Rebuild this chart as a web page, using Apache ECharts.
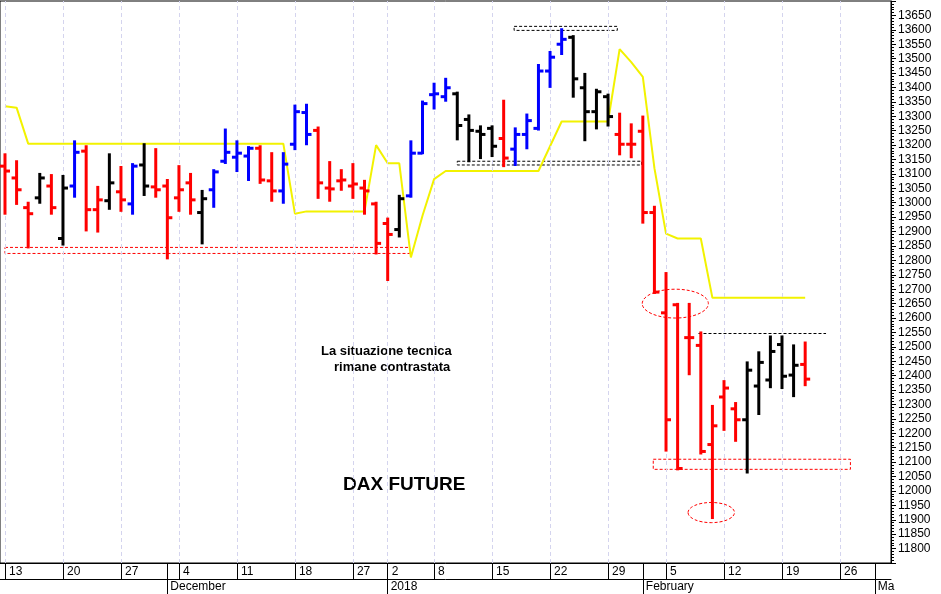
<!DOCTYPE html>
<html><head><meta charset="utf-8">
<script src="https://cdn.jsdelivr.net/npm/echarts@6/dist/echarts.min.js"></script>
<style>html,body{margin:0;padding:0;background:#fff}#c{width:941px;height:594px}</style>
</head><body><div id="c"></div>
<script>
const dates = ['2017-11-13','2017-11-14','2017-11-15','2017-11-16','2017-11-17','2017-11-20','2017-11-21','2017-11-22','2017-11-23','2017-11-24',
'2017-11-27','2017-11-28','2017-11-29','2017-11-30','2017-12-01','2017-12-04','2017-12-05','2017-12-06','2017-12-07','2017-12-08',
'2017-12-11','2017-12-12','2017-12-13','2017-12-14','2017-12-15','2017-12-18','2017-12-19','2017-12-20','2017-12-21','2017-12-22',
'2017-12-27','2017-12-28','2017-12-29','2018-01-02','2018-01-03','2018-01-04','2018-01-05','2018-01-08','2018-01-09','2018-01-10',
'2018-01-11','2018-01-12','2018-01-15','2018-01-16','2018-01-17','2018-01-18','2018-01-19','2018-01-22','2018-01-23','2018-01-24',
'2018-01-25','2018-01-26','2018-01-29','2018-01-30','2018-01-31','2018-02-01','2018-02-02','2018-02-05','2018-02-06','2018-02-07',
'2018-02-08','2018-02-09','2018-02-12','2018-02-13','2018-02-14','2018-02-15','2018-02-16','2018-02-19','2018-02-20','2018-02-21',
'2018-02-22','2018-02-23','2018-02-26','2018-02-27','2018-02-28','2018-03-01','2018-03-02'];
const opens  = [13127,13086,12983,13017,13058,12876,13058,13179,12976,13007,13038,12996,13131,13055,13058,13017,13069,12966,13045,13144,
13158,13162,13189,13076,13041,13203,13313,13251,13051,13076,13058,13051,12996,12928,12907,13024,13172,13375,13368,13378,
13289,13248,13258,13223,13186,13237,13258,13457,13550,13574,13399,13316,13368,13237,13203,13248,12966,12618,12646,12532,
12505,12161,12326,12285,12247,12364,12385,12508,12402,12439];
const highs  = [13168,13144,13000,13100,13096,13093,13213,13196,13055,13168,13124,13134,13203,13186,13079,13127,13100,13041,13113,13254,
13213,13193,13196,13172,13172,13337,13340,13261,13141,13113,13134,13076,13000,12945,13024,13213,13351,13413,13430,13382,
13303,13265,13265,13354,13258,13306,13478,13523,13602,13578,13447,13392,13375,13309,13272,13299,12986,12756,12649,12649,
12550,12295,12381,12305,12446,12481,12536,12536,12505,12515];
const lows   = [12962,12996,12845,13000,12962,12855,13021,12904,12900,12979,12972,12962,13027,13021,12807,12972,12962,12859,12986,13138,
13110,13079,13069,13007,13000,13186,13203,13017,13007,13045,13017,12962,12824,12732,12883,13021,13172,13327,13354,13220,
13144,13155,13162,13127,13131,13189,13254,13402,13516,13368,13217,13258,13268,13168,13158,12931,12687,12140,12075,12405,
12130,11906,12212,12174,12064,12267,12360,12357,12329,12367];
const closes = [13110,13045,12962,13086,12983,13051,13175,12976,13010,13069,13010,13127,13058,13045,12948,13045,13010,13014,13107,13175,
13172,13189,13079,13041,13134,13316,13237,13069,13048,13079,13065,13041,12859,12890,13014,13172,13344,13378,13399,13268,
13251,13237,13196,13155,13237,13285,13457,13505,13567,13430,13316,13385,13299,13203,13203,12966,12690,12247,12078,12532,
12137,12226,12357,12247,12419,12446,12484,12398,12436,12388];
const barColors = ['r','r','r','k','r','k','b','r','r','k','r','b','k','r','r','r','r','k','b','b',
'b','b','r','r','b','b','b','r','r','r','r','r','r','r','k','b','b','b','b','k',
'k','k','k','r','b','b','b','b','b','k','k','k','k','r','r','r','r','r','r','r',
'r','r','r','r','k','k','k','k','k','r'];
const yellowLine = [13335,13330,13205,13205,13205,13205,13205,13205,13205,13205,13205,13205,13205,13205,13205,13205,13205,13205,13205,13205,
13205,13205,13205,13205,13205,12962,12970,12970,12970,12970,12970,12970,13200,13137,13137,12810,12955,13082,13110,13110,
13110,13110,13110,13110,13110,13110,13110,13196,13282,13282,13282,13282,13282,13533,13488,13437,13120,12893,12876,12876,
12876,12670,12670,12670,12670,12670,12670,12670,12670,12670];
const weekTicks = [0,5,10,15,20,25,30,33,37,42,47,52,57,62,67,72];
const weekLabels = ['13','20','27','4','11','18','27','2','8','15','22','29','5','12','19','26'];
const monthTicks = [14,33,55,75];
const monthLabels = ['December','2018','February','Ma'];
const yTickLabels = {min:11750, max:13700, step:50};

const colorMap = {r:'#ff0000', k:'#000000', b:'#0000ff'};
const ohlc = opens.map((o,i)=>[i,o,highs[i],lows[i],closes[i]]);
const chart = echarts.init(document.getElementById('c'));
const FONT = 'Liberation Sans, Arial, sans-serif';
const xBase = {type:'value', min:-0.43, max:76.4, position:'bottom'};
chart.setOption({
  animation:false,
  backgroundColor:'#fff',
  grid:{left:0, right:50, top:1, bottom:31, show:true, borderColor:'#000', borderWidth:1, backgroundColor:'transparent'},
  xAxis:[
    Object.assign({}, xBase, {
      axisLine:{show:true, onZero:false, lineStyle:{color:'#000', width:1}},
      axisTick:{show:true, customValues:weekTicks.concat(monthTicks), length:16, lineStyle:{color:'#000'}},
      axisLabel:{customValues:weekTicks, formatter:v=>weekLabels[weekTicks.indexOf(Math.round(v))] || '', align:'left', padding:[0,0,0,4], margin:3, fontSize:12, color:'#000', fontFamily:FONT, hideOverlap:false},
      splitLine:{show:false}
    }),
    Object.assign({}, xBase, {
      offset:16,
      axisLine:{show:true, onZero:false, lineStyle:{color:'#000', width:1}},
      axisTick:{show:true, customValues:monthTicks, length:16, lineStyle:{color:'#000'}},
      axisLabel:{customValues:monthTicks, formatter:v=>monthLabels[monthTicks.indexOf(Math.round(v))] || '', align:'left', padding:[0,0,0,3], margin:2, fontSize:12, color:'#000', fontFamily:FONT, hideOverlap:false},
      splitLine:{show:false}
    })
  ],
  yAxis:{type:'value', position:'right', min:yTickLabels.min, max:yTickLabels.max, interval:yTickLabels.step,
    axisLine:{show:true, onZero:false, lineStyle:{color:'#000'}},
    axisTick:{show:true, length:5, lineStyle:{color:'#000'}},
    minorTick:{show:true, splitNumber:5, length:3, lineStyle:{color:'#000'}},
    axisLabel:{showMinLabel:false, showMaxLabel:false, fontSize:12, color:'#000', fontFamily:FONT, margin:7, formatter:v=>String(v)},
    splitLine:{show:false}},
  series:[
    {type:'line', data:weekTicks.map(w=>[w,yTickLabels.min]), symbol:'none', lineStyle:{opacity:0}, silent:true,
     markLine:{symbol:'none', silent:true, label:{show:false},
       lineStyle:{color:'#d4d4ee', type:[4,3], width:1},
       data:weekTicks.map(w=>({xAxis:w}))}},
    {type:'line', data:yellowLine.map((v,i)=>[i,v]), symbol:'none', lineStyle:{color:'#f2f200', width:2}, z:3},
    {type:'custom', data:ohlc, z:5,
     renderItem:(params, api)=>{
       const i = api.value(0);
       const c = colorMap[barColors[i]];
       const pO = api.coord([i, api.value(1)]), pH = api.coord([i, api.value(2)]);
       const pL = api.coord([i, api.value(3)]), pC = api.coord([i, api.value(4)]);
       const st = {stroke:c, lineWidth:3};
       return {type:'group', children:[
         {type:'line', shape:{x1:pH[0], y1:pH[1]-1, x2:pL[0], y2:pL[1]+1}, style:st},
         {type:'line', shape:{x1:pO[0]-5, y1:pO[1], x2:pO[0], y2:pO[1]}, style:st},
         {type:'line', shape:{x1:pC[0], y1:pC[1], x2:pC[0]+5, y2:pC[1]}, style:st}
       ]};
     }},
    {type:'line', data:[], markArea:{silent:true, data:[
        [{coord:[0,12845], itemStyle:{color:'transparent', borderColor:'#ff0000', borderWidth:1, borderType:[3,2]}},{coord:[34.9,12824]}],
        [{coord:[43.9,13612], itemStyle:{color:'transparent', borderColor:'#000', borderWidth:1, borderType:[3,2]}},{coord:[52.8,13598]}],
        [{coord:[39,13144], itemStyle:{color:'transparent', borderColor:'#000', borderWidth:1, borderType:[3,2]}},{coord:[54.9,13131]}],
        [{coord:[55.9,12110], itemStyle:{color:'transparent', borderColor:'#ff0000', borderWidth:1, borderType:[3,2]}},{coord:[72.9,12075]}]
      ]},
      markLine:{symbol:'none', silent:true, label:{show:false}, lineStyle:{color:'#000', type:[3,2], width:1},
        data:[[{coord:[59.8,12548]},{coord:[70.8,12548]}]]}}
  ]
});
const e1c = chart.convertToPixel({xAxisIndex:0, yAxisIndex:0}, [57.8, 12650]);
const e1r = chart.convertToPixel({xAxisIndex:0, yAxisIndex:0}, [60.65, 12600]);
const e2c = chart.convertToPixel({xAxisIndex:0, yAxisIndex:0}, [60.9, 11925]);
const e2r = chart.convertToPixel({xAxisIndex:0, yAxisIndex:0}, [62.9, 11890]);
chart.setOption({graphic:[
  {type:'ellipse', shape:{cx:e1c[0], cy:e1c[1], rx:e1r[0]-e1c[0], ry:e1r[1]-e1c[1]}, style:{fill:'none', stroke:'#ff0000', lineWidth:1, lineDash:[3,2]}, z:10},
  {type:'ellipse', shape:{cx:e2c[0], cy:e2c[1], rx:e2r[0]-e2c[0], ry:e2r[1]-e2c[1]}, style:{fill:'none', stroke:'#ff0000', lineWidth:1, lineDash:[3,2]}, z:10},
  {type:'text', left:321, top:345, style:{text:'La situazione tecnica', font:'bold 13px '+FONT, fill:'#000'}},
  {type:'text', left:334, top:361, style:{text:'rimane contrastata', font:'bold 13px '+FONT, fill:'#000'}},
  {type:'text', left:343, top:475, style:{text:'DAX FUTURE', font:'bold 19px '+FONT, fill:'#000'}}
]});
</script></body></html>
